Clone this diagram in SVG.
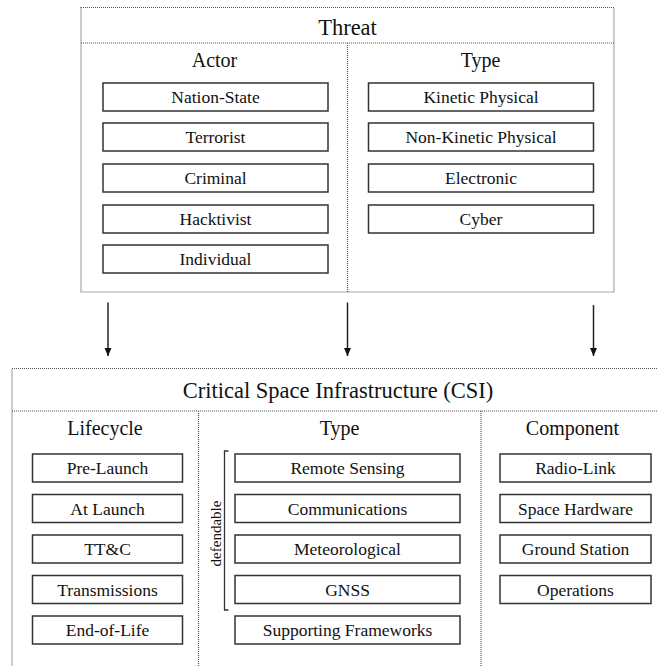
<svg xmlns="http://www.w3.org/2000/svg" width="657" height="666" viewBox="0 0 657 666" font-family="'Liberation Serif', 'DejaVu Serif', 'Noto Serif', serif">
<style>
.frame{fill:none;stroke:#555;stroke-width:1.2;stroke-dasharray:1 1}
.div{fill:none;stroke:#555;stroke-width:1.2;stroke-dasharray:1 1}
.box{fill:#fff;stroke:#333;stroke-width:1.5}
text{font-family:'Liberation Serif','DejaVu Serif',serif;fill:#111;text-anchor:middle}
.title{font-size:22.5px}
.head{font-size:20px}
.item{font-size:17.5px}
.side{font-size:15px}
.conn{stroke:#222;stroke-width:1.5;fill:none}
</style>
<defs>
<marker id="ah" markerWidth="8" markerHeight="8" refX="8" refY="4" orient="auto" markerUnits="userSpaceOnUse">
<path d="M0,0.5 L8,4 L0,7.5 Z" fill="#111"/>
</marker>
</defs>
<rect width="657" height="666" fill="#fff"/>

<g id="threat">
<rect class="frame" x="81" y="7.5" width="533" height="284.5"/>
<line class="div" x1="81" y1="43" x2="614" y2="43"/>
<line class="div" x1="347.5" y1="43" x2="347.5" y2="292"/>
<text class="title" x="347.5" y="35">Threat</text>
<text class="head" x="214.5" y="67">Actor</text>
<text class="head" x="480.5" y="67">Type</text>
</g>

<g id="actor-nation-state"><rect class="box" x="103" y="83" width="225" height="28"/><text class="item" x="215.5" y="103">Nation-State</text></g>
<g id="actor-terrorist"><rect class="box" x="103" y="123" width="225" height="28"/><text class="item" x="215.5" y="143">Terrorist</text></g>
<g id="actor-criminal"><rect class="box" x="103" y="164" width="225" height="28"/><text class="item" x="215.5" y="184">Criminal</text></g>
<g id="actor-hacktivist"><rect class="box" x="103" y="205" width="225" height="28"/><text class="item" x="215.5" y="225">Hacktivist</text></g>
<g id="actor-individual"><rect class="box" x="103" y="245" width="225" height="28"/><text class="item" x="215.5" y="265">Individual</text></g>

<g id="type-kinetic"><rect class="box" x="368.5" y="83" width="225" height="28"/><text class="item" x="481" y="103">Kinetic Physical</text></g>
<g id="type-non-kinetic"><rect class="box" x="368.5" y="123" width="225" height="28"/><text class="item" x="481" y="143">Non-Kinetic Physical</text></g>
<g id="type-electronic"><rect class="box" x="368.5" y="164" width="225" height="28"/><text class="item" x="481" y="184">Electronic</text></g>
<g id="type-cyber"><rect class="box" x="368.5" y="205" width="225" height="28"/><text class="item" x="481" y="225">Cyber</text></g>

<g id="connectors">
<line class="conn" x1="108" y1="302.5" x2="108" y2="356" marker-end="url(#ah)"/>
<line class="conn" x1="347.5" y1="302.5" x2="347.5" y2="356" marker-end="url(#ah)"/>
<line class="conn" x1="593.5" y1="305" x2="593.5" y2="356" marker-end="url(#ah)"/>
</g>

<g id="csi">
<rect class="frame" x="12" y="368.5" width="700" height="400"/>
<line class="div" x1="12" y1="411" x2="657" y2="411"/>
<line class="div" x1="198.5" y1="411" x2="198.5" y2="666"/>
<line class="div" x1="481" y1="411" x2="481" y2="666"/>
<text class="title" x="338" y="398">Critical Space Infrastructure (CSI)</text>
<text class="head" x="105" y="435">Lifecycle</text>
<text class="head" x="339.5" y="435">Type</text>
<text class="head" x="572.5" y="435">Component</text>
</g>

<g id="life-pre-launch"><rect class="box" x="32.5" y="454" width="150" height="28"/><text class="item" x="107.5" y="474">Pre-Launch</text></g>
<g id="life-at-launch"><rect class="box" x="32.5" y="494.5" width="150" height="28"/><text class="item" x="107.5" y="514.5">At Launch</text></g>
<g id="life-ttc"><rect class="box" x="32.5" y="535" width="150" height="28"/><text class="item" x="107.5" y="555">TT&amp;C</text></g>
<g id="life-transmissions"><rect class="box" x="32.5" y="575.5" width="150" height="28"/><text class="item" x="107.5" y="595.5">Transmissions</text></g>
<g id="life-end-of-life"><rect class="box" x="32.5" y="616" width="150" height="28"/><text class="item" x="107.5" y="636">End-of-Life</text></g>

<g id="defendable">
<path d="M228.5,451 H224.5 V610 H228.5" fill="none" stroke="#333" stroke-width="1.3"/>
<text class="side" transform="translate(221,533.5) rotate(-90)" x="0" y="0">defendable</text>
</g>

<g id="csi-remote-sensing"><rect class="box" x="235" y="454" width="225" height="28"/><text class="item" x="347.5" y="474">Remote Sensing</text></g>
<g id="csi-communications"><rect class="box" x="235" y="494.5" width="225" height="28"/><text class="item" x="347.5" y="514.5">Communications</text></g>
<g id="csi-meteorological"><rect class="box" x="235" y="535" width="225" height="28"/><text class="item" x="347.5" y="555">Meteorological</text></g>
<g id="csi-gnss"><rect class="box" x="235" y="575.5" width="225" height="28"/><text class="item" x="347.5" y="595.5">GNSS</text></g>
<g id="csi-supporting"><rect class="box" x="235" y="616" width="225" height="28"/><text class="item" x="347.5" y="636">Supporting Frameworks</text></g>

<g id="comp-radio-link"><rect class="box" x="500" y="454" width="151" height="28"/><text class="item" x="575.5" y="474">Radio-Link</text></g>
<g id="comp-space-hardware"><rect class="box" x="500" y="494.5" width="151" height="28"/><text class="item" x="575.5" y="514.5">Space Hardware</text></g>
<g id="comp-ground-station"><rect class="box" x="500" y="535" width="151" height="28"/><text class="item" x="575.5" y="555">Ground Station</text></g>
<g id="comp-operations"><rect class="box" x="500" y="575.5" width="151" height="28"/><text class="item" x="575.5" y="595.5">Operations</text></g>
</svg>
